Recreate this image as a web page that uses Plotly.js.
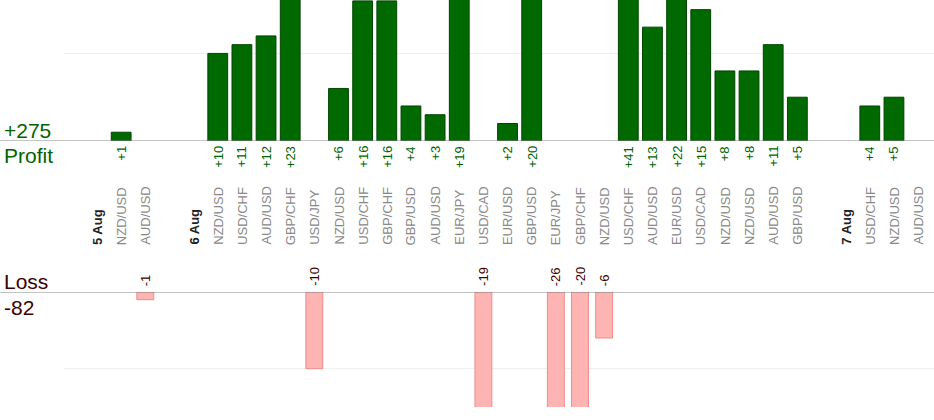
<!DOCTYPE html>
<html><head><meta charset="utf-8">
<script src="https://cdn.plot.ly/plotly-3.0.1.min.js"></script>
<style>body{margin:0}#plot{width:934px;height:420px}</style>
</head><body><div id="plot"></div>
<script>
// one slot per column; day headers have no value
const pairs = ['5 Aug','NZD/USD','AUD/USD','','6 Aug','NZD/USD','USD/CHF','AUD/USD','GBP/CHF','USD/JPY',
  'NZD/USD','USD/CHF','GBP/CHF','GBP/USD','AUD/USD','EUR/JPY','USD/CAD','EUR/USD','GBP/USD','EUR/JPY',
  'GBP/CHF','NZD/USD','USD/CHF','AUD/USD','EUR/USD','USD/CAD','NZD/USD','NZD/USD','AUD/USD','GBP/USD',
  '','7 Aug','USD/CHF','NZD/USD','AUD/USD'];
const isDay = [1,0,0,0,1,0,0,0,0,0, 0,0,0,0,0,0,0,0,0,0, 0,0,0,0,0,0,0,0,0,0, 0,1,0,0,0];
const results = [null,1,-1,null,null,10,11,12,23,-10, 6,16,16,4,3,19,-19,2,20,-26,
  -20,-6,41,13,22,15,8,8,11,5, null,null,4,5,0];
const totalProfit = '+275', totalLoss = '-82';

const profX = [], profY = [], lossX = [], lossY = [];
results.forEach((v, i) => {
  if (v === null || v === 0) return;
  if (v > 0) { profX.push(i); profY.push(v); } else { lossX.push(i); lossY.push(v); }
});

const data = [
  { type: 'bar', x: profX, y: profY, xaxis: 'x', yaxis: 'y', width: 0.82,
    marker: { color: '#006a00', line: { color: '#004400', width: 1 } }, hoverinfo: 'skip' },
  { type: 'bar', x: lossX, y: lossY, xaxis: 'x', yaxis: 'y2', width: 0.7,
    marker: { color: '#ffb4b4', line: { color: '#f08a8a', width: 1 } }, hoverinfo: 'skip' }
];

// paper y from pixel
const py = px => 1 - px / 420;
const FONT = 'Liberation Sans, Arial, sans-serif';
const annotations = [];
pairs.forEach((p, i) => {
  if (!p) return;
  annotations.push({ x: i, xref: 'x', y: py(247), yref: 'paper', yanchor: 'bottom',
    text: isDay[i] ? '<b>' + p + '</b>' : p, textangle: -90, showarrow: false,
    font: { family: FONT, size: 13, color: isDay[i] ? '#222' : '#888' } });
});
profX.forEach((x, k) => annotations.push({ x, xref: 'x', y: py(144), yref: 'paper', yanchor: 'top',
  text: '+' + profY[k], textangle: -90, showarrow: false,
  font: { family: FONT, size: 13, color: '#006400' } }));
lossX.forEach((x, k) => annotations.push({ x, xref: 'x', y: py(288), yref: 'paper', yanchor: 'bottom',
  text: String(lossY[k]), textangle: -90, showarrow: false,
  font: { family: FONT, size: 13, color: '#400000' } }));
const side = (t, y, c) => ({ x: 0.002, xref: 'paper', y: py(y), yref: 'paper', xanchor: 'left', yanchor: 'middle',
  text: t, showarrow: false, font: { family: FONT, size: 21, color: c } });
annotations.push(side(totalProfit, 130, '#006400'), side('Profit', 155, '#006400'),
  side('Loss', 281, '#400000'), side(totalLoss, 307, '#400000'));

const x0 = -97 / 24.15, x1 = (934 - 97) / 24.15, gx = (64 - 97) / 24.15;
const shapes = [
  { type: 'line', xref: 'paper', x0: 0, x1: 1, yref: 'y', y0: 0, y1: 0, line: { color: '#888', width: 1 } },
  { type: 'line', xref: 'paper', x0: 0, x1: 1, yref: 'y2', y0: 0, y1: 0, line: { color: '#888', width: 1 } },
  { type: 'line', xref: 'x', x0: gx, x1: x1, yref: 'y', y0: 10, y1: 10, line: { color: '#eee', width: 1 }, layer: 'below' },
  { type: 'line', xref: 'x', x0: gx, x1: x1, yref: 'y2', y0: -10, y1: -10, line: { color: '#eee', width: 1 }, layer: 'below' }
];

const layout = {
  width: 934, height: 420, margin: { l: 0, r: 0, t: 0, b: 0 },
  paper_bgcolor: '#fff', plot_bgcolor: 'rgba(0,0,0,0)', showlegend: false,
  xaxis: { range: [x0, x1], visible: false },
  yaxis: { domain: [py(141), 1], range: [0, 16.1], visible: false },
  yaxis2: { domain: [py(407), py(292)], range: [-15, 0], visible: false },
  annotations, shapes
};
Plotly.newPlot('plot', data, layout, { staticPlot: true });
</script></body></html>
